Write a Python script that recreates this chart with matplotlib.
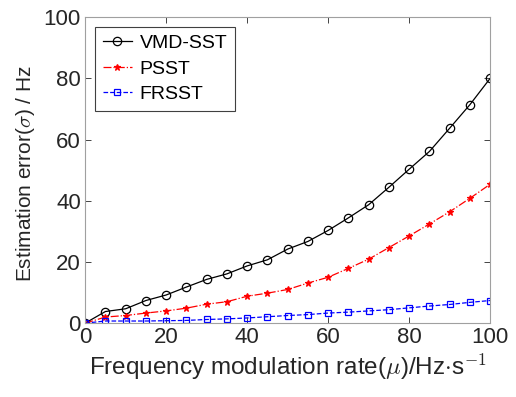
import numpy as np
import matplotlib
matplotlib.use("Agg")
import matplotlib.pyplot as plt

plt.rcParams['font.family'] = ['Liberation Sans', 'DejaVu Sans']
plt.rcParams['mathtext.fontset'] = 'cm'

# --- Data ---
mu = np.arange(0, 101, 5)
vmd_sst = [0, 3.8, 4.7, 7.4, 9.2, 11.8, 14.3, 16.1, 18.7, 20.7, 24.2,
           26.7, 30.3, 34.4, 38.7, 44.4, 50.3, 56.1, 63.7, 71.4, 80.0]
psst = [0, 2.0, 2.5, 3.3, 4.0, 4.9, 6.2, 7.0, 8.8, 9.8, 11.0,
        13.1, 15.0, 17.9, 20.9, 24.7, 28.5, 32.4, 36.4, 40.8, 45.4]
frsst = [0, 0.7, 0.7, 0.7, 0.8, 0.9, 1.2, 1.4, 1.7, 2.1, 2.5,
         2.8, 3.3, 3.6, 4.0, 4.4, 5.0, 5.6, 6.1, 6.8, 7.4]

# --- Plot ---
fig = plt.figure(figsize=(5.16, 3.97), dpi=100)
ax = fig.add_axes([0.165, 0.186, 0.785, 0.771])

ax.plot(mu, vmd_sst, '-o', color='black', lw=0.9, ms=6, mfc='none', mew=0.9, label='VMD-SST')
ax.plot(mu, psst, '-.*', color='red', lw=0.9, ms=5, mew=0.9, label='PSST')
ax.plot(mu, frsst, '--s', color='blue', lw=0.9, ms=5, mfc='none', mew=0.9, label='FRSST')

ax.set_xlim(0, 100)
ax.set_ylim(0, 100)
ax.set_xticks(range(0, 101, 20))
ax.set_yticks(range(0, 101, 20))
ax.tick_params(direction='in', top=True, right=True, labelsize=16,
               colors='#262626', length=4, width=0.6, pad=3)
for s in ax.spines.values():
    s.set_color('#a0a0a0')
    s.set_linewidth(0.8)
for t in ax.get_xticklines() + ax.get_yticklines():
    t.set_color('#808080')

ax.set_xlabel(r'Frequency modulation rate($\mu$)/Hz$\cdot$s$^{-1}$', fontsize=17.5,
              color='#262626', labelpad=2)
ax.set_ylabel(r'Estimation error($\sigma$) / Hz', fontsize=15, color='#262626')
ax.yaxis.set_label_coords(-0.12, 0.49)

leg = ax.legend(loc='upper left', fontsize=14, fancybox=False, framealpha=1,
                edgecolor='#404040', borderaxespad=0.5, handlelength=1.5,
                borderpad=0.4, labelspacing=0.4, handletextpad=0.4)
leg.get_frame().set_linewidth(0.8)

fig.savefig('out.png', dpi=100)
